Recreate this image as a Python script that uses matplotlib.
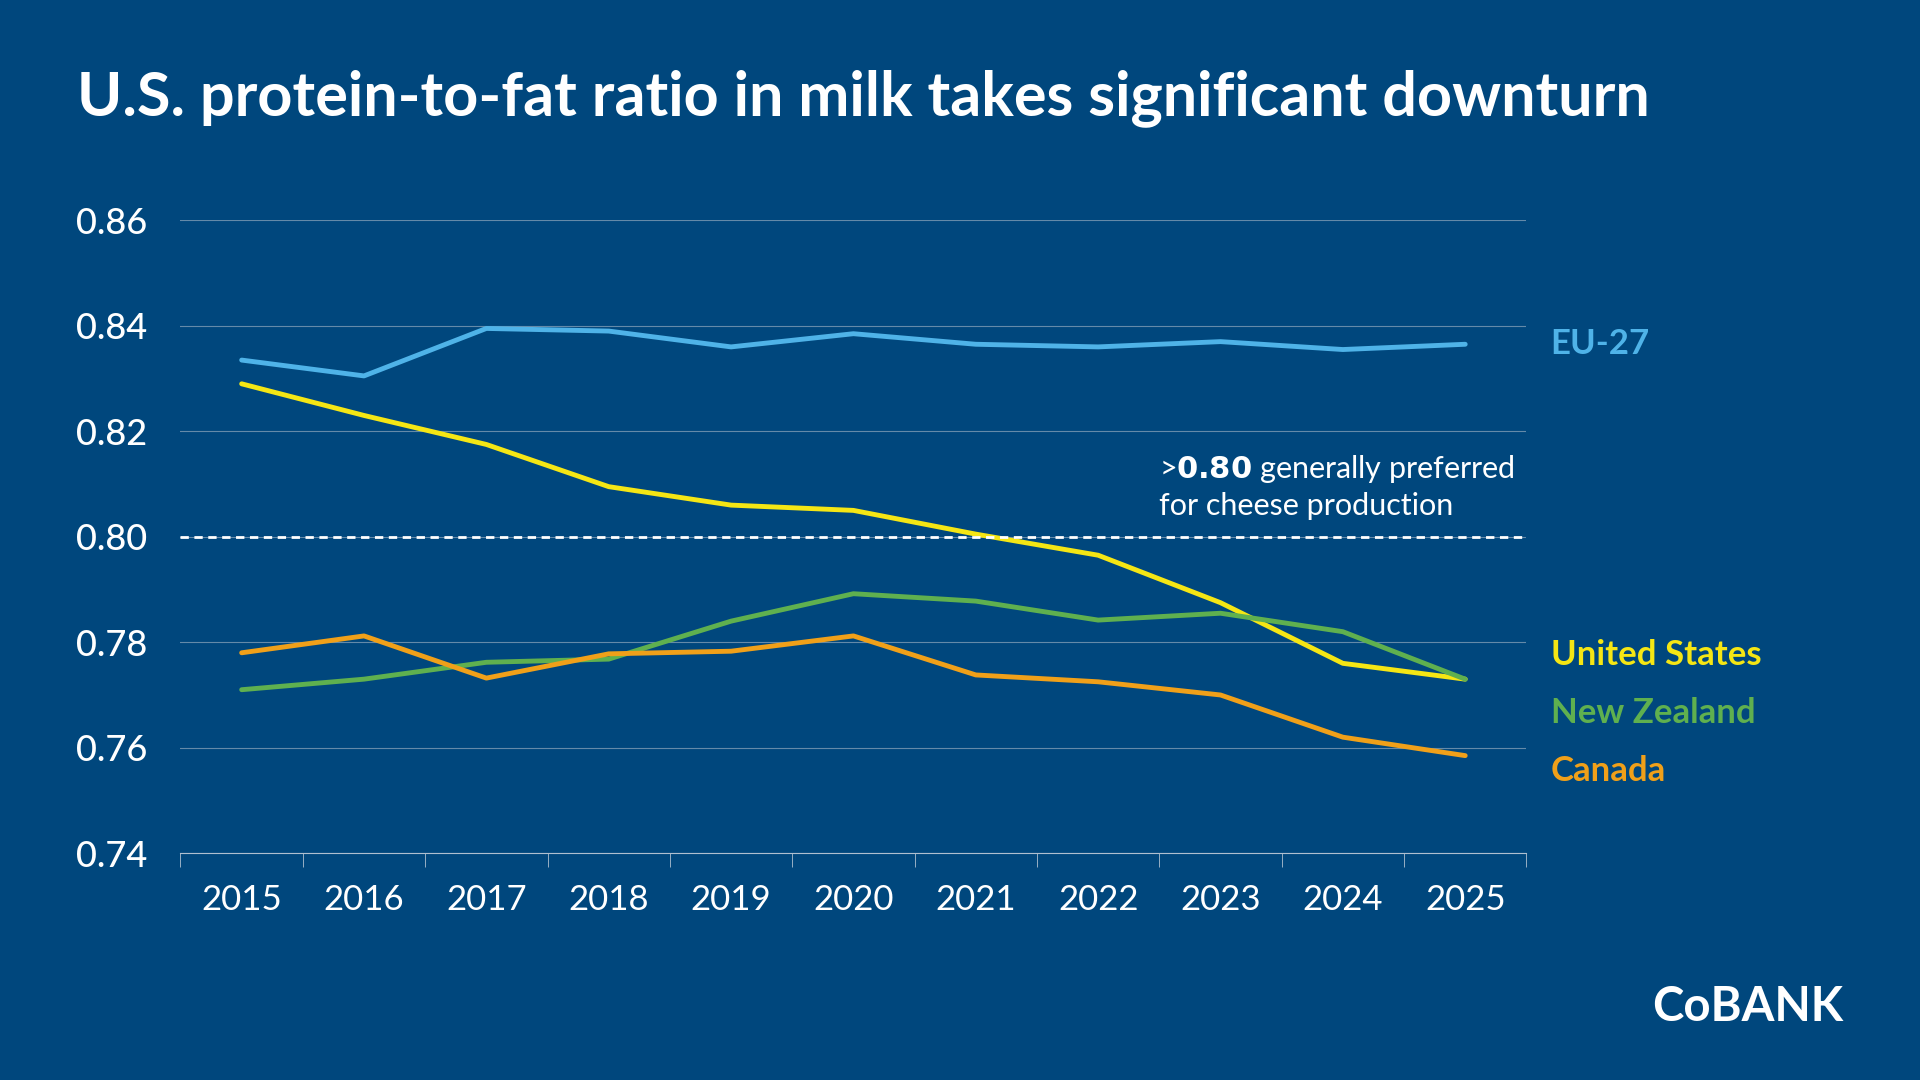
import matplotlib.pyplot as plt
import matplotlib.ticker as mticker

plt.rcParams['font.family'] = ['Lato', 'DejaVu Sans']

years = list(range(2015, 2026))
eu27 = [0.8335, 0.8305, 0.8395, 0.839, 0.836, 0.8385, 0.8365, 0.836, 0.837, 0.8355, 0.8365]
united_states = [0.829, 0.823, 0.8175, 0.8095, 0.806, 0.805, 0.8005, 0.7965, 0.7875, 0.776, 0.773]
new_zealand = [0.771, 0.773, 0.7762, 0.7768, 0.784, 0.7892, 0.7878, 0.7842, 0.7855, 0.782, 0.773]
canada = [0.778, 0.7812, 0.7732, 0.7778, 0.7783, 0.7812, 0.7738, 0.7725, 0.770, 0.762, 0.7585]

BG = '#00477d'
series = [
    ("EU-27", eu27, '#4fb3e8', 0.8365),
    ("United States", united_states, '#f5e614', 0.7775),
    ("New Zealand", new_zealand, '#5fb04f', 0.7665),
    ("Canada", canada, '#f0a019', 0.7555),
]

fig = plt.figure(figsize=(19.2, 10.8), dpi=100, facecolor=BG)
ax = fig.add_axes([0.094, 0.21, 0.701, 0.586], facecolor=BG)

for name, vals, color, ylab in series:
    ax.plot(years, vals, color=color, lw=3.5, solid_capstyle='round')
    ax.text(1.018, (ylab - 0.74) / 0.12, name, transform=ax.transAxes, color=color,
            fontsize=25, fontweight='bold', va='center', ha='left')

ax.axhline(0.80, color='white', lw=2, ls=(0, (3, 2)))
ax.text(2022.5, 0.8095, r'>$\mathbf{0.80}$ generally preferred' + '\nfor cheese production',
        color='white', fontsize=22, va='center', ha='left', linespacing=1.3)

ax.set_xlim(2014.5, 2025.5)
ax.set_ylim(0.74, 0.86)
ax.set_yticks([0.74, 0.76, 0.78, 0.80, 0.82, 0.84, 0.86])
ax.yaxis.set_major_formatter(mticker.FormatStrFormatter('%.2f'))
ax.set_xticks(years)
ax.set_xticks([y + 0.5 for y in [2014] + years], minor=True)
ax.grid(axis='y', color='#8fa7bd', lw=0.8, alpha=0.7)
ax.set_axisbelow(True)
for s in ['top', 'right', 'left']:
    ax.spines[s].set_visible(False)
ax.spines['bottom'].set_color('#b0c0d0')
ax.tick_params(axis='x', which='major', length=0, labelsize=25, colors='white', pad=22)
ax.tick_params(axis='x', which='minor', length=10, color='#b0c0d0')
ax.tick_params(axis='y', length=0, labelsize=26, colors='white', pad=24)
for lbl in ax.get_yticklabels():
    lbl.set_fontweight('medium')

fig.text(0.04, 0.909, 'U.S. protein-to-fat ratio in milk takes significant downturn',
         color='white', fontsize=44, fontweight='bold', va='center', ha='left')
fig.text(0.96, 0.068, 'CoBANK', color='white', fontsize=34, fontweight='bold',
         va='center', ha='right')

fig.savefig('out.png', dpi=100, facecolor=BG)
